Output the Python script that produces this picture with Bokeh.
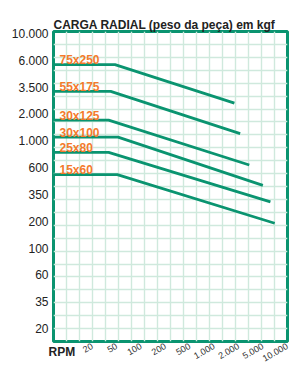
import numpy as np
from bokeh.plotting import figure
from bokeh.models import (Range1d, FixedTicker, SingleIntervalTicker, Grid, Label, Title,
                          ColumnDataSource)
from bokeh.core.properties import value
from bokeh.embed import file_html
from bokeh.resources import INLINE

# ---- data ----
Y_TICKS = [20, 35, 60, 100, 200, 350, 600, 1000, 2000, 3500, 6000, 10000]
Y_LABELS = ["20", "35", "60", "100", "200", "350", "600", "1.000", "2.000", "3.500", "6.000", "10.000"]
X_TICKS = [20, 50, 100, 200, 500, 1000, 2000, 5000, 10000]
X_LABELS = ["20", "50", "100", "200", "500", "1.000", "2.000", "5.000", "10.000"]

SIZES = ["75x250", "55x175", "30x125", "30x100", "25x80", "15x60"]
LOAD_MAX = [5500, 3200, 1700, 1100, 800, 520]      # kgf, flat part
RPM_KNEE = [47, 40, 37, 52, 37, 51]                 # rpm where the load starts to drop
RPM_END = [1780, 2130, 3000, 5000, 6200, 7000]      # rpm at the end of each line
LOAD_END = [2500, 1200, 630, 420, 300, 190]         # kgf at the end of each line

GREEN = "#0a9470"
ORANGE = "#f47a2c"
GRIDC = "#cfe9dd"
FONT = "Liberation Sans"

# the chart uses evenly spaced (nominal) scale steps
def ypos(v):
    return np.interp(np.log(v), np.log(Y_TICKS), np.arange(len(Y_TICKS)))

def xpos(v):
    return np.interp(np.log(v), np.log(X_TICKS), np.arange(len(X_TICKS)))

X0, X1 = -1.59, 8.01
Y0, Y1 = -0.48, 11.07

p = figure(width=289, height=367, output_backend="svg", toolbar_location=None,
           x_range=Range1d(X0, X1), y_range=Range1d(Y0, Y1),
           min_border_left=53, min_border_right=2, min_border_top=31, min_border_bottom=22)
p.background_fill_color = "white"
p.border_fill_color = "white"
p.outline_line_color = GREEN
p.outline_line_width = 3
p.title.text = ""
p.title.visible = False

p.xgrid.visible = False
p.ygrid.visible = False

# uniform background grid (18 x 24 cells as in the reference)
p.extra_x_ranges = {"gx": Range1d(0, 18)}
p.extra_y_ranges = {"gy": Range1d(0, 24)}
p.add_layout(Grid(dimension=0, ticker=SingleIntervalTicker(interval=1, num_minor_ticks=0),
                  x_range_name="gx", grid_line_color=GRIDC, grid_line_width=1.4))
p.add_layout(Grid(dimension=1, ticker=SingleIntervalTicker(interval=1, num_minor_ticks=0),
                  y_range_name="gy", grid_line_color=GRIDC, grid_line_width=1.4))

# axes
ya = p.yaxis[0]
ya.ticker = FixedTicker(ticks=list(range(len(Y_TICKS))))
ya.major_label_overrides = {i: s for i, s in enumerate(Y_LABELS)}
ya.axis_line_color = None
ya.major_tick_line_color = None
ya.minor_tick_line_color = None
ya.major_tick_out = 0
ya.major_tick_in = 0
ya.major_label_standoff = 5
ya.major_label_text_font = FONT
ya.major_label_text_font_size = "12px"
ya.major_label_text_color = "#222222"

xa = p.xaxis[0]
xa.ticker = FixedTicker(ticks=list(range(len(X_TICKS))))
xa.major_label_overrides = {i: s for i, s in enumerate(X_LABELS)}
xa.axis_line_color = None
xa.major_tick_line_color = None
xa.minor_tick_line_color = None
xa.major_tick_out = 0
xa.major_tick_in = 0
xa.major_label_standoff = 4
xa.major_label_orientation = 0.52
xa.major_label_text_font = FONT
xa.major_label_text_font_size = "9px"
xa.major_label_text_color = "#333333"

# lines
xs, ys = [], []
for lm, rk, re_, le in zip(LOAD_MAX, RPM_KNEE, RPM_END, LOAD_END):
    xs.append([X0, float(xpos(rk)), float(xpos(re_))])
    ys.append([float(ypos(lm)), float(ypos(lm)), float(ypos(le))])
src = ColumnDataSource(dict(xs=xs, ys=ys))
p.multi_line("xs", "ys", source=src, line_color=GREEN, line_width=2.8)

# size labels
p.text(x=[X0] * len(SIZES), y=[float(v) for v in ypos(LOAD_MAX)], text=SIZES,
       x_offset=6, y_offset=-4.5,
       text_font=value(FONT), text_font_style="bold", text_font_size="12px",
       text_color=ORANGE, text_baseline="alphabetic", text_align="left")

# chart title, next to the chart box
title = Title(text="CARGA RADIAL (peso da peça) em kgf", align="left",
              text_font=FONT, text_font_size="12px", text_font_style="bold",
              text_color="#222222", standoff=0)
p.add_layout(title, "above")

# "RPM" caption, anchored at the bottom-left corner of the chart box
rpm = Label(x=X0, y=Y0, x_offset=-5, y_offset=-10, text="RPM",
            text_font=FONT, text_font_style="bold", text_font_size="12px",
            text_color="#222222", text_baseline="middle", text_align="left")
p.add_layout(rpm, "above")

open("out.html", "w").write(file_html(p, INLINE))
